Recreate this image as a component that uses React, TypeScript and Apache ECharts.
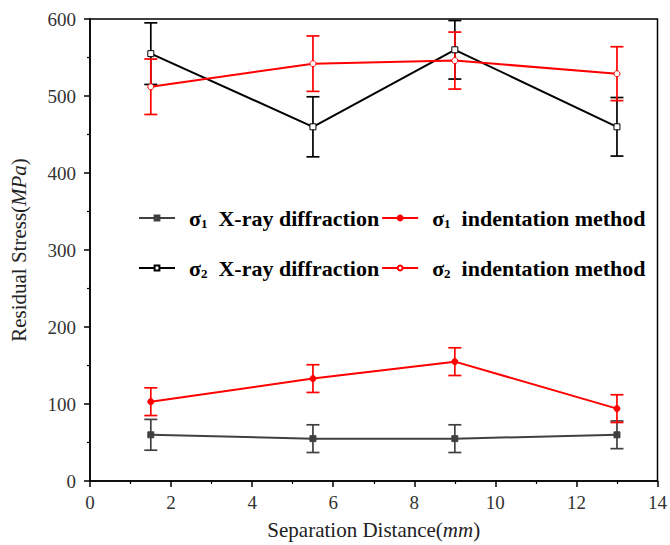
import React, { useEffect, useRef } from "react";
import * as echarts from "echarts";

const xs = [1.5, 5.5, 9, 13];
const s1Xray = [60, 55, 55, 60];
const s1XrayErr = [20, 18, 18, 18];
const s1Ind = [103, 133, 155, 94];
const s1IndErr = [18, 18, 18, 18];
const s2Xray = [555, 460, 560, 460];
const s2XrayErr = [40, 39, 38, 38];
const s2Ind = [512, 542, 546, 529];
const s2IndErr = [36, 36, 37, 35];

const xTicks = [0, 2, 4, 6, 8, 10, 12, 14];
const yTicks = [0, 100, 200, 300, 400, 500, 600];

const FONT = "Liberation Serif";
const RED = "#ff0000";
const GRAY = "#404040";
const BLACK = "#000000";

const names: Record<string, string> = {
  s1x: "{s|σ}{sub|1}{b|  X-ray diffraction}",
  s1i: "{s|σ}{sub|1}{b|  indentation method}",
  s2x: "{s|σ}{sub|2}{b|  X-ray diffraction}",
  s2i: "{s|σ}{sub|2}{b|  indentation method}",
};

function lineSeries(name: string, vals: number[], color: string, symbol: string, fill: string) {
  return {
    type: "line",
    name,
    data: xs.map((x, i) => [x, vals[i]]),
    symbol,
    symbolSize: 6,
    showAllSymbol: true,
    lineStyle: { color, width: 2 },
    itemStyle: { color: fill, borderColor: color, borderWidth: 1 },
    z: 3,
  };
}

function errSeries(name: string, vals: number[], errs: number[], color: string) {
  return {
    type: "custom",
    name: name + "_err",
    data: xs.map((x, i) => [x, vals[i] - errs[i], vals[i] + errs[i]]),
    encode: { x: 0, y: [1, 2] },
    z: 2,
    renderItem: (params: any, api: any) => {
      const x = api.value(0);
      const lo = api.value(1);
      const hi = api.value(2);
      const p1 = api.coord([x, hi]);
      const p2 = api.coord([x, lo]);
      const w = 6.5;
      const style = { stroke: color, lineWidth: 1.7 };
      return {
        type: "group",
        children: [
          { type: "line", shape: { x1: p1[0], y1: p1[1], x2: p2[0], y2: p2[1] }, style },
          { type: "line", shape: { x1: p1[0] - w, y1: p1[1], x2: p1[0] + w, y2: p1[1] }, style },
          { type: "line", shape: { x1: p2[0] - w, y1: p2[1], x2: p2[0] + w, y2: p2[1] }, style },
        ],
      };
    },
  };
}

const legendText = {
  fontFamily: FONT,
  color: "#000",
  rich: {
    s: { fontFamily: FONT, fontSize: 22, fontWeight: "bold", color: "#000", padding: [0, 0, 0, 9] },
    b: { fontFamily: FONT, fontSize: 22, fontWeight: "bold", color: "#000" },
    sub: { fontFamily: FONT, fontSize: 13, fontWeight: "bold", color: "#000", padding: [10, 0, 0, 0] },
  },
};

const titleStyle = {
  fontFamily: FONT,
  fontSize: 21,
  color: "#222",
  rich: {
    t: { fontFamily: FONT, fontSize: 21, color: "#222" },
    i: { fontFamily: FONT, fontSize: 21, fontStyle: "italic", color: "#222" },
  },
};

export default function App() {
  const ref = useRef<HTMLDivElement>(null);
  useEffect(() => {
    if (!ref.current) return;
    const chart = echarts.init(ref.current, null, { renderer: "svg" });
    chart.setOption({
      animation: false,
      backgroundColor: "#fff",
      grid: {
        left: 85,
        right: 12,
        top: 19,
        bottom: 61,
        show: true,
        borderColor: "#000",
        borderWidth: 1.5,
      },
      legend: [
        {
          data: ["s1x", "s1i"],
          left: 133,
          top: 202,
          itemGap: 2,
          itemWidth: 36,
          itemHeight: 6,
          formatter: (n: string) => names[n],
          textStyle: legendText,
        },
        {
          data: ["s2x", "s2i"],
          left: 133,
          top: 252,
          itemGap: 2,
          itemWidth: 36,
          itemHeight: 6,
          formatter: (n: string) => names[n],
          textStyle: legendText,
        },
      ],
      xAxis: {
        type: "value",
        min: xTicks[0],
        max: xTicks[xTicks.length - 1],
        interval: 2,
        name: "{t|Separation Distance(}{i|mm}{t|)}",
        nameLocation: "middle",
        nameGap: 38,
        nameTextStyle: titleStyle,
        axisLine: { show: true, lineStyle: { color: "#000", width: 1.5 } },
        axisTick: { show: true, inside: false, length: 6, lineStyle: { color: "#000", width: 1.5 } },
        minorTick: { show: true, splitNumber: 2, length: 3, lineStyle: { color: "#000", width: 1.2 } },
        axisLabel: { fontFamily: FONT, fontSize: 19, color: "#333", margin: 12 },
        splitLine: { show: false },
      },
      yAxis: {
        type: "value",
        min: yTicks[0],
        max: yTicks[yTicks.length - 1],
        interval: 100,
        name: "{t|Residual Stress(}{i|MPa}{t|)}",
        nameLocation: "middle",
        nameGap: 61,
        nameTextStyle: titleStyle,
        axisLine: { show: true, lineStyle: { color: "#000", width: 1.5 } },
        axisTick: { show: true, inside: false, length: 6, lineStyle: { color: "#000", width: 1.5 } },
        minorTick: { show: true, splitNumber: 2, length: 3, lineStyle: { color: "#000", width: 1.2 } },
        axisLabel: { fontFamily: FONT, fontSize: 19, color: "#333", margin: 14 },
        splitLine: { show: false },
      },
      series: [
        errSeries("s1x", s1Xray, s1XrayErr, GRAY),
        errSeries("s2x", s2Xray, s2XrayErr, BLACK),
        errSeries("s1i", s1Ind, s1IndErr, RED),
        errSeries("s2i", s2Ind, s2IndErr, RED),
        lineSeries("s1x", s1Xray, GRAY, "rect", GRAY),
        lineSeries("s2x", s2Xray, BLACK, "rect", "#fff"),
        lineSeries("s1i", s1Ind, RED, "circle", RED),
        lineSeries("s2i", s2Ind, RED, "circle", "#fff"),
      ],
    });
    return () => chart.dispose();
  }, []);
  return (
    <div
      ref={ref}
      style={{ position: "fixed", left: 0, top: 0, width: 670, height: 545 }}
    />
  );
}
